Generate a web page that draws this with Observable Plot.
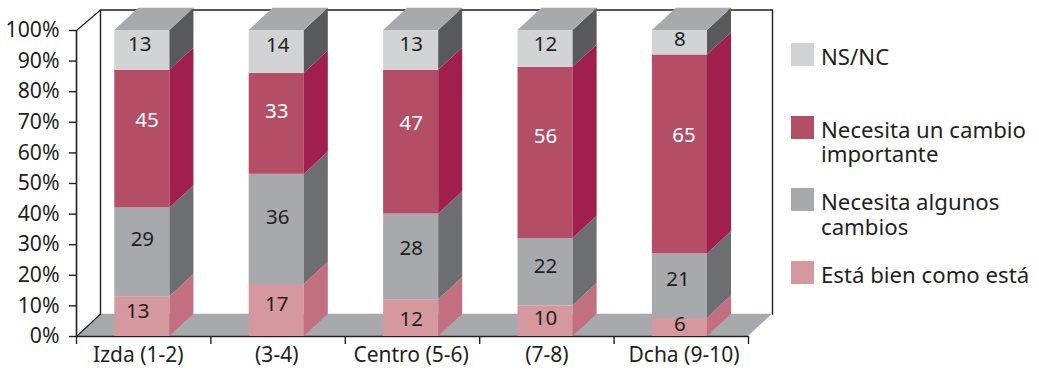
<!DOCTYPE html>
<html>
<head>
<meta charset="utf-8">
<script src="https://cdn.jsdelivr.net/npm/d3@7"></script>
<script src="https://cdn.jsdelivr.net/npm/@observablehq/plot@0.6"></script>
<style>
  html, body { margin: 0; padding: 0; background: #fff; }
  #chart { position: relative; width: 1039px; height: 370px; overflow: hidden; font-family: "Noto Sans", sans-serif; color: #231f20; }
  #legend { position: absolute; left: 791px; top: 43px; }
  .item { display: flex; height: 72.5px; width: 245px; font-size: 22.2px; line-height: 24.5px; }
  .sw { width: 23px; height: 23px; flex: none; margin-right: 7px; }
  .tx { margin-top: 2px; }
</style>
</head>
<body>
<div id="chart"><div id="legend"></div></div>
<script>
const categories = ["Izda (1-2)", "(3-4)", "Centro (5-6)", "(7-8)", "Dcha (9-10)"];
const seriesNames = ["Está bien como está", "Necesita algunos cambios", "Necesita un cambio importante", "NS/NC"];
const estaBien = [13, 17, 12, 10, 6];
const algunos = [29, 36, 28, 22, 21];
const importante = [45, 33, 47, 56, 65];
const nsnc = [13, 14, 13, 12, 8];
const yTicks = [0, 10, 20, 30, 40, 50, 60, 70, 80, 90, 100];
const xTicks = [0, 1, 2, 3, 4, 5];
const labelSlots = [0.46, 1.49, 2.49, 3.5, 4.52];

const frontColors = ["#d6989f", "#a7a9ac", "#b34e66", "#d1d3d4"];
const sideColors = ["#c27080", "#6d6e71", "#a01f4c", "#58595b"];
const topColor = "#a7a9ac";
const textColors = ["#231f20", "#231f20", "#ffffff", "#231f20"];
const ink = "#231f20";

// the printed numbers do not sit exactly mid-segment in the source; nudges in data units
const liftY = [
  [0.3, 0.7, -1.6, -0.3, -0.3],
  [2.9, 2.6, 1.6, 0.7, 0.7],
  [4.9, 2.6, 4.9, 4.2, 4.9],
  [0.7, 0.7, 0.7, 0, -0.3]
];
const shiftX = [
  [-0.035, 0, 0, 0, 0],
  [0, 0.007, 0, 0, -0.015],
  [0.035, 0, 0, 0, 0.03],
  [-0.02, 0.007, 0, 0, 0]
];

const series = [estaBien, algunos, importante, nsnc];
// depth of the 3D extrusion, in data units
const depthX = 24 / 134.4, depthY = 7.3;
const halfBar = 0.205, slotCentre = 0.49;

const fronts = [], sides = [], tops = [], labels = [];
categories.forEach((c, i) => {
  const cx = i + slotCentre, x0 = cx - halfBar, x1 = cx + halfBar;
  let base = 0;
  series.forEach((s, k) => {
    const v = s[i], y1 = base, y2 = base + v, id = `${i}-${k}`;
    fronts.push({x1: x0, x2: x1, y1, y2, fill: frontColors[k]});
    sides.push({id, x: x1, y1, y2, fill: sideColors[k]});
    sides.push({id, x: x1 + depthX, y1: y1 + depthY, y2: y2 + depthY, fill: sideColors[k]});
    labels.push({x: cx + shiftX[k][i], y: (y1 + y2) / 2 + 1 + liftY[k][i], v, fill: textColors[k]});
    base = y2;
  });
  tops.push({id: i, y: base, x1: x0, x2: x1});
  tops.push({id: i, y: base + depthY, x1: x0 + depthX, x2: x1 + depthX});
});

const floor = [{y: 0, x1: 0, x2: 5}, {y: depthY, x1: depthX, x2: 5 + depthX}];
const wallTop = 106.7;
const wall = [
  {x: depthX, y: depthY}, {x: depthX, y: wallTop}, {x: 5 + depthX, y: wallTop},
  {x: 5 + depthX, y: depthY}
];

const plot = Plot.plot({
  width: 780, height: 370,
  marginLeft: 76, marginRight: 32, marginTop: 30, marginBottom: 34,
  style: {fontFamily: "'Noto Sans', sans-serif", fontSize: "20px", color: ink, overflow: "visible", background: "transparent"},
  x: {domain: [0, 5], axis: null},
  y: {domain: [0, 100], axis: null},
  marks: [
    Plot.areaX(floor, {y: "y", x1: "x1", x2: "x2", fill: topColor}),
    Plot.line(wall, {x: "x", y: "y", stroke: ink, strokeWidth: 1.4}),
    Plot.line([{x: 0, y: 100}, {x: depthX, y: wallTop}], {x: "x", y: "y", stroke: ink, strokeWidth: 1.2}),
    Plot.line([{x: 0, y: 0}, {x: depthX, y: depthY}], {x: "x", y: "y", stroke: ink, strokeWidth: 1.2}),
    Plot.ruleX([0], {y1: 0, y2: 100, stroke: ink, strokeWidth: 1.6}),
    Plot.ruleY([0], {x1: 0, x2: 5, stroke: ink, strokeWidth: 1.6}),
    Plot.axisY({ticks: yTicks, tickFormat: d => d + "%", tickSize: 7, tickPadding: 10, label: null, stroke: ink, fill: ink, strokeWidth: 1.4, fontSize: 21.2, textStroke: "none"}),
    Plot.axisX({ticks: xTicks, tickSize: 8, tickFormat: () => "", label: null, stroke: ink, strokeWidth: 1.4}),
    Plot.axisX({ticks: labelSlots, tickSize: 0, tickPadding: 11, label: null, fill: ink, fontSize: 21,
      tickFormat: d => categories[labelSlots.indexOf(d)]}),
    Plot.rect(fronts, {x1: "x1", x2: "x2", y1: "y1", y2: "y2", fill: "fill"}),
    Plot.areaY(sides, {x: "x", y1: "y1", y2: "y2", z: "id", fill: "fill"}),
    Plot.areaX(tops, {y: "y", x1: "x1", x2: "x2", z: "id", fill: topColor}),
    Plot.text(labels, {x: "x", y: "y", text: "v", fill: "fill", fontSize: 20.5, dy: -1})
  ]
});
document.getElementById("chart").appendChild(plot);

const legendOrder = [3, 2, 1, 0];
const legend = document.getElementById("legend");
legendOrder.forEach(k => {
  const row = document.createElement("div"); row.className = "item";
  const sw = document.createElement("div"); sw.className = "sw"; sw.style.background = frontColors[k];
  const tx = document.createElement("div"); tx.className = "tx"; tx.textContent = seriesNames[k];
  row.append(sw, tx); legend.append(row);
});
</script>
</body>
</html>
